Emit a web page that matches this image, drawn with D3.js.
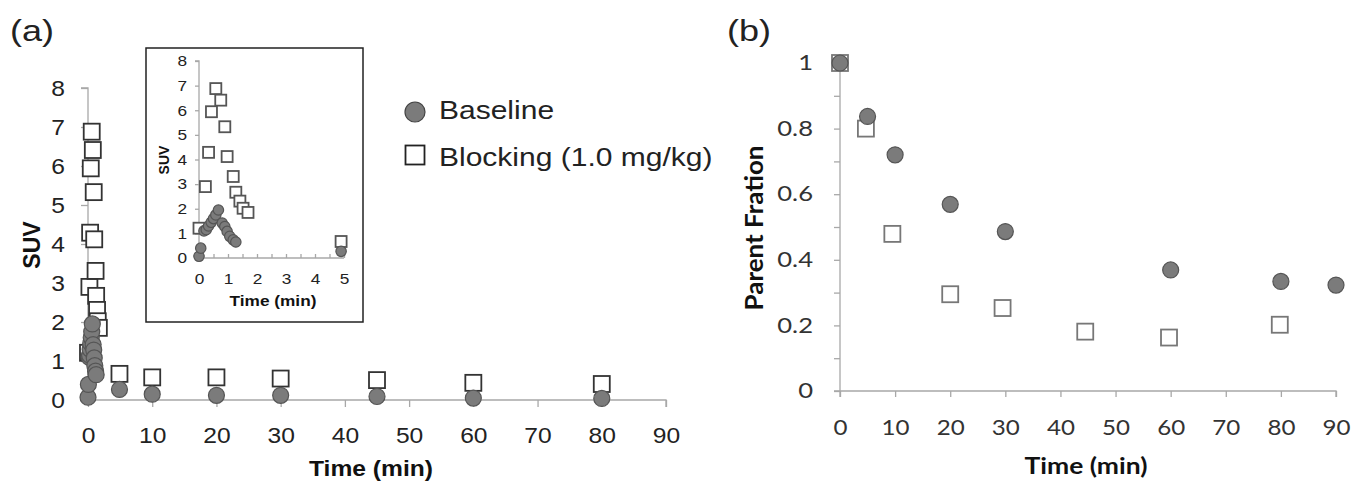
<!DOCTYPE html>
<html>
<head>
<meta charset="utf-8">
<script src="https://cdn.jsdelivr.net/npm/d3@7"></script>
<style>
  body { margin: 0; background: #fff; }
  .ax path, .ax line { stroke: #a8a8a8; stroke-width: 1.3; }
  .a-font { font-family: "Liberation Sans", Arial, sans-serif; }
  .b-font { font-family: Lato, "Open Sans", sans-serif; }
</style>
</head>
<body>
<div id="chart"></div>
<script>
// ---- data (a): SUV vs time ----
const baseEarlyT = [0, 0.06, 0.17, 0.25, 0.33, 0.42, 0.5, 0.58, 0.67, 0.8, 0.89, 0.97, 1.06, 1.18, 1.27];
const baseEarlySUV = [0.07, 0.4, 1.1, 1.15, 1.3, 1.45, 1.6, 1.75, 1.95, 1.42, 1.28, 1.08, 0.88, 0.74, 0.65];
const blockEarlyT = [0, 0.22, 0.33, 0.43, 0.58, 0.75, 0.89, 0.97, 1.18, 1.27, 1.41, 1.52, 1.69];
const blockEarlySUV = [1.21, 2.9, 4.29, 5.94, 6.88, 6.41, 5.33, 4.12, 3.31, 2.67, 2.31, 2.02, 1.85];
const lateT = [4.9, 10, 20, 30, 45, 60, 80];
const baseLateSUV = [0.27, 0.15, 0.12, 0.12, 0.09, 0.05, 0.04];
const blockLateSUV = [0.67, 0.58, 0.58, 0.55, 0.51, 0.44, 0.41];

// ---- data (b): parent fraction ----
const baseFracT = [0, 5, 10, 20, 30, 60, 80, 90];
const baseFrac = [1.0, 0.837, 0.72, 0.569, 0.486, 0.369, 0.334, 0.323];
const blockFracT = [0, 4.7, 9.5, 20, 29.5, 44.5, 59.7, 79.8];
const blockFrac = [1.0, 0.80, 0.479, 0.295, 0.253, 0.181, 0.163, 0.202];

const legendLabels = ["Baseline", "Blocking (1.0 mg/kg)"];
const zip = (t, v) => t.map((x, i) => ({ t: x, v: v[i] }));

const baseAll = zip(baseEarlyT.concat(lateT), baseEarlySUV.concat(baseLateSUV));
const blockAll = zip(blockEarlyT.concat(lateT), blockEarlySUV.concat(blockLateSUV));

const W = 1353, H = 485;
const SX = 1.2; // the original figure is a bit wider than tall
const svg = d3.select("#chart").append("svg")
    .attr("width", W).attr("height", H)
    .style("background", "#fff");

function styleAxis(g, fs, col, fam) {
    g.attr("class", "ax " + fam);
    g.selectAll("text").attr("font-size", fs).attr("fill", col);
}
// widen x-axis labels around their tick
function wideX(g, sx) {
    g.selectAll(".tick text").attr("transform", `scale(${sx},1)`);
}
// widen y-axis labels, right edge "off" px left of the axis
function wideY(g, sx, off) {
    g.selectAll(".tick text").attr("x", -off / sx).attr("transform", `scale(${sx},1)`);
}
function label(parent, cls, x, y, str, fs, opts = {}) {
    const rot = opts.rotate ? " rotate(-90)" : "";
    return parent.append("text").attr("class", cls)
        .attr("transform", `translate(${x},${y}) scale(${opts.sx || SX},1)${rot}`)
        .attr("text-anchor", opts.anchor || "middle")
        .attr("font-size", fs).attr("font-weight", opts.bold ? "bold" : null)
        .attr("fill", opts.fill || "#111").text(str);
}

function drawPoints(g, x, y, sq, circ, sqSize, cR, sqStroke) {
    g.append("g").selectAll("rect").data(sq).enter().append("rect")
        .attr("x", d => x(d.t) - sqSize / 2)
        .attr("y", d => y(d.v) - sqSize / 2)
        .attr("width", sqSize).attr("height", sqSize)
        .attr("fill", "#fff").attr("stroke", sqStroke).attr("stroke-width", 1.8);
    g.append("g").selectAll("circle").data(circ).enter().append("circle")
        .attr("cx", d => x(d.t)).attr("cy", d => y(d.v)).attr("r", cR)
        .attr("fill", "#7b7b7b").attr("stroke", "#555").attr("stroke-width", 1.2);
}

// ===== panel (a) =====
const xa = d3.scaleLinear().domain([0, 90]).range([88, 666]);
const ya = d3.scaleLinear().domain([0, 8]).range([400, 88]);

const gxa = svg.append("g").attr("transform", `translate(0,${ya(0)})`)
    .call(d3.axisBottom(xa).tickValues(d3.range(0, 91, 10)).tickSize(7).tickPadding(20));
styleAxis(gxa, 22, "#222", "a-font");
gxa.select(".domain").attr("d", `M${xa(0)},0H${xa(90)}V7`);
wideX(gxa, 1.12);

const gya = svg.append("g").attr("transform", `translate(${xa(0)},0)`)
    .call(d3.axisLeft(ya).ticks(8).tickSize(7));
styleAxis(gya, 22, "#222", "a-font");
gya.select(".domain").attr("d", `M-7,${ya(8)}H0V${ya(0)}`);
gya.selectAll(".tick text").attr("dy", "0.36em");
wideY(gya, 1.12, 23);

label(svg, "a-font", 40, 245, "SUV", 23, { bold: true, rotate: true, sx: 1 });
label(svg, "a-font", 371, 476, "Time (min)", 22, { bold: true, sx: 1.12 });
label(svg, "a-font", 10, 41, "(a)", 30, { anchor: "start", fill: "#222" });

// inset
const inset = svg.append("g");
inset.append("rect").attr("x", 146).attr("y", 48).attr("width", 217).attr("height", 274)
    .attr("fill", "#fff").attr("stroke", "#222").attr("stroke-width", 1.5);
const xi = d3.scaleLinear().domain([0, 5]).range([199, 344]);
const yi = d3.scaleLinear().domain([0, 8]).range([258, 61]);
const gxi = inset.append("g").attr("transform", `translate(0,${yi(0)})`)
    .call(d3.axisBottom(xi).tickValues(d3.range(0, 5.01, 0.5)).tickSize(4).tickPadding(11)
        .tickFormat(d => Number.isInteger(d) ? d : ""));
styleAxis(gxi, 15, "#222", "a-font");
gxi.select(".domain").attr("d", `M${xi(0)},0H${xi(5)}`);
gxi.selectAll(".tick line").attr("y1", -4).attr("y2", 0);
wideX(gxi, 1.15);
const gyi = inset.append("g").attr("transform", `translate(${xi(0)},0)`)
    .call(d3.axisLeft(yi).ticks(8).tickSize(4));
styleAxis(gyi, 15, "#222", "a-font");
gyi.select(".domain").attr("d", `M-4,${yi(8)}H0V${yi(0)}`);
wideY(gyi, 1.15, 12);
label(inset, "a-font", 169, 160, "SUV", 14, { bold: true, rotate: true, sx: 1 });
label(inset, "a-font", 273, 306, "Time (min)", 15, { bold: true, sx: 1.15 });
drawPoints(inset.append("g"), xi, yi, blockAll.filter(d => d.t <= 5), baseAll.filter(d => d.t <= 5), 11, 5.2, "#555");

// main points
drawPoints(svg.append("g"), xa, ya, blockAll, baseAll, 16, 8, "#333");

// legend
const leg = svg.append("g");
leg.append("circle").attr("cx", 415).attr("cy", 112).attr("r", 10)
    .attr("fill", "#7b7b7b").attr("stroke", "#444").attr("stroke-width", 1.2);
leg.append("rect").attr("x", 405.5).attr("y", 145.5).attr("width", 19).attr("height", 19)
    .attr("fill", "#fff").attr("stroke", "#222").attr("stroke-width", 1.8);
legendLabels.forEach((d, i) =>
    label(leg, "a-font", 439, 119 + i * 47, d, 25, { anchor: "start", fill: "#222" }));

// ===== panel (b) =====
const xb = d3.scaleLinear().domain([0, 90]).range([840, 1336]);
const yb = d3.scaleLinear().domain([0, 1]).range([391, 63]);

const gxb = svg.append("g").attr("transform", `translate(0,${yb(0)})`)
    .call(d3.axisBottom(xb).tickValues(d3.range(0, 91, 10)).tickSize(6).tickPadding(23));
styleAxis(gxb, 21, "#333", "b-font");
gxb.select(".domain").attr("d", `M${xb(0) - 6},0H${xb(90)}V6`);
wideX(gxb, 1.15);

const gyb = svg.append("g").attr("transform", `translate(${xb(0)},0)`)
    .call(d3.axisLeft(yb).tickValues(d3.range(0, 1.001, 0.1)).tickSize(6)
        .tickFormat(d => (Math.round(d * 10) % 2 === 0) ? d3.format("~g")(Math.round(d * 10) / 10) : ""));
styleAxis(gyb, 21, "#333", "b-font");
gyb.select(".domain").attr("d", `M0,${yb(1)}V${yb(0) + 6}`);
wideY(gyb, 1.22, 27);

label(svg, "b-font", 763, 228, "Parent Fration", 23, { bold: true, rotate: true, sx: 1.05 })
    .attr("textLength", 165).attr("lengthAdjust", "spacingAndGlyphs");
label(svg, "b-font", 1086, 474, "Time (min)", 23, { bold: true, sx: 1.15 });
label(svg, "a-font", 727, 41, "(b)", 30, { anchor: "start", fill: "#222" });

drawPoints(svg.append("g"), xb, yb, zip(blockFracT, blockFrac), zip(baseFracT, baseFrac), 16, 8, "#777");
</script>
</body>
</html>
